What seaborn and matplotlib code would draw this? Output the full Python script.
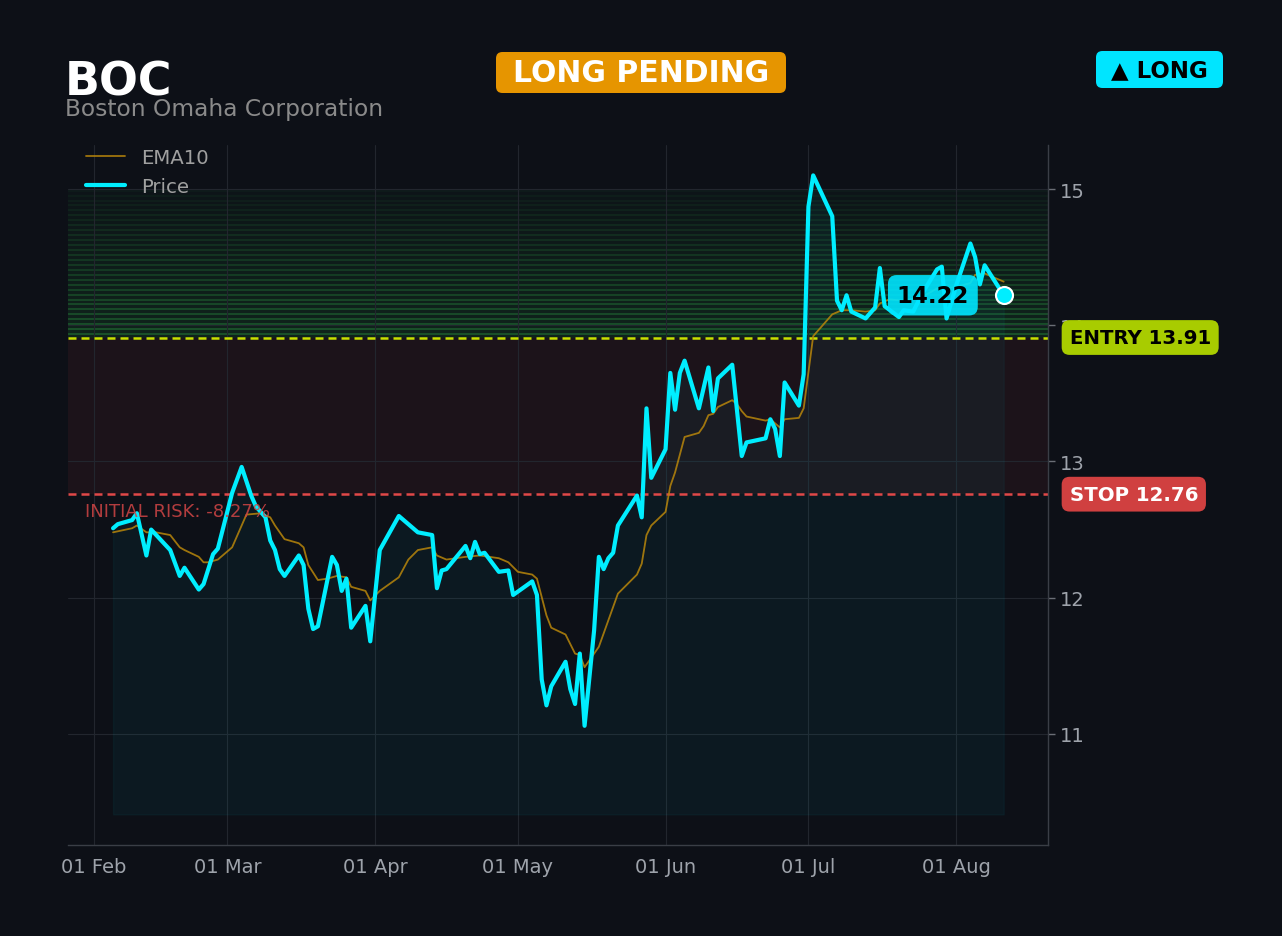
import numpy as np
import pandas as pd
import seaborn as sns
import matplotlib.pyplot as plt
import matplotlib.dates as mdates
from matplotlib.patches import FancyBboxPatch
from matplotlib.transforms import blended_transform_factory

ticker = "BOC"
company = "Boston Omaha Corporation"
status = "LONG PENDING"
side = "▲ LONG"
entry = 13.91
stop = 12.76
target_top = 15.0
fill_floor = 10.41

start = pd.Timestamp("2025-02-01")

# price vertices, days counted from 01 Feb
price_days = [4, 5, 8, 9, 11, 12, 16, 18, 19, 22, 23, 25, 26, 29, 31, 33, 34, 36, 37, 38,
              39, 40, 43, 44, 45, 46, 47, 50, 51, 52, 53, 54, 57, 58, 60, 64, 66, 68, 71, 72,
              73, 74, 78, 79, 80, 81, 82, 85, 87, 88, 92, 93, 94, 95, 96, 99, 100, 101, 102, 103,
              105, 106, 107, 108, 109, 110, 114, 115, 116, 117, 120, 121, 122, 123, 124, 127, 129, 130, 131, 134,
              136, 137, 141, 142, 143, 144, 145, 148, 149, 150, 151, 155, 156, 157, 158, 159, 162, 164, 165, 166,
              169, 170, 172, 174, 177, 178, 179, 181, 184, 185, 186, 187, 191]
price = [12.51, 12.54, 12.57, 12.62, 12.31, 12.50, 12.35, 12.16, 12.22, 12.06, 12.10, 12.32, 12.36, 12.77, 12.96, 12.75, 12.67, 12.59, 12.42, 12.35,
         12.21, 12.16, 12.31, 12.24, 11.92, 11.77, 11.79, 12.30, 12.24, 12.05, 12.14, 11.78, 11.94, 11.68, 12.35, 12.60, 12.54, 12.48, 12.46, 12.07,
         12.20, 12.21, 12.38, 12.29, 12.41, 12.32, 12.33, 12.19, 12.20, 12.02, 12.12, 12.02, 11.40, 11.21, 11.35, 11.53, 11.33, 11.22, 11.59, 11.06,
         11.76, 12.30, 12.21, 12.29, 12.33, 12.53, 12.75, 12.59, 13.39, 12.88, 13.09, 13.65, 13.38, 13.65, 13.74, 13.39, 13.69, 13.37, 13.61, 13.71,
         13.04, 13.14, 13.17, 13.31, 13.24, 13.04, 13.58, 13.41, 13.64, 14.87, 15.10, 14.80, 14.18, 14.11, 14.22, 14.10, 14.05, 14.13, 14.42, 14.14,
         14.06, 14.11, 14.10, 14.24, 14.41, 14.43, 14.05, 14.29, 14.60, 14.50, 14.30, 14.44, 14.22]

ema_days = [4, 8, 9, 11, 13, 16, 18, 19, 22, 23, 24, 26, 29, 31, 32, 35, 37, 38, 40, 43,
            44, 45, 47, 49, 51, 53, 54, 57, 58, 60, 64, 66, 68, 71, 72, 74, 78, 81, 85, 87,
            89, 92, 93, 95, 96, 99, 101, 102, 103, 106, 110, 114, 115, 116, 117, 120, 121, 122, 124, 127,
            128, 129, 130, 131, 134, 135, 136, 137, 141, 142, 144, 145, 148, 149, 151, 153, 155, 157, 159, 162,
            164, 165, 167, 170, 174, 177, 181, 184, 185, 187, 191]
ema10 = [12.48, 12.51, 12.53, 12.48, 12.48, 12.46, 12.37, 12.35, 12.30, 12.26, 12.26, 12.28, 12.37, 12.53, 12.61, 12.62, 12.59, 12.53, 12.43, 12.40,
         12.37, 12.24, 12.13, 12.14, 12.16, 12.15, 12.08, 12.05, 11.98, 12.05, 12.15, 12.28, 12.35, 12.37, 12.31, 12.28, 12.30, 12.31, 12.29, 12.26,
         12.19, 12.17, 12.14, 11.87, 11.78, 11.73, 11.59, 11.58, 11.49, 11.64, 12.03, 12.17, 12.25, 12.46, 12.53, 12.63, 12.82, 12.92, 13.18, 13.21,
         13.26, 13.34, 13.35, 13.40, 13.45, 13.42, 13.37, 13.33, 13.30, 13.31, 13.25, 13.31, 13.32, 13.39, 13.92, 14.00, 14.08, 14.11, 14.11, 14.10,
         14.11, 14.16, 14.19, 14.18, 14.21, 14.27, 14.28, 14.31, 14.37, 14.38, 14.32]

price_df = pd.DataFrame({"date": start + pd.to_timedelta(price_days, unit="D"), "price": price})
ema_df = pd.DataFrame({"date": start + pd.to_timedelta(ema_days, unit="D"), "ema": ema10})
last_date = price_df["date"].iloc[-1]
last_price = price_df["price"].iloc[-1]

bg = "#0d1017"
sns.set_style("darkgrid", rc={
    "axes.facecolor": bg,
    "figure.facecolor": bg,
    "grid.color": "#22262e",
    "axes.edgecolor": "#3a3e46",
    "xtick.color": "#9ea3ab",
    "ytick.color": "#9ea3ab",
    "text.color": "#9ea3ab",
})
plt.rcParams["font.family"] = ["DejaVu Sans"]

W, H = 1282, 937
fig = plt.figure(figsize=(W / 100, H / 100), dpi=100)
ax = fig.add_axes([68 / W, 91 / H, 980 / W, 700 / H])

# zones
ax.axhspan(stop, entry, color="#e04040", alpha=0.075, lw=0, zorder=0)
n_bands = 30
edges = np.linspace(entry, target_top, n_bands + 1)
for i in range(n_bands):
    k = 1 - i / n_bands
    ax.axhspan(edges[i], edges[i + 1], color="#1f9d3a", alpha=0.03 + 0.11 * k, lw=0, zorder=0)
    ax.axhline(edges[i + 1] - 0.012, color="#34c450", alpha=0.03 + 0.26 * k, lw=1.4, zorder=0)

ax.fill_between(price_df["date"], price_df["price"], fill_floor,
                color="#00e5ff", alpha=0.045, lw=1, zorder=1)

sns.lineplot(data=ema_df, x="date", y="ema", color="#b8860b", lw=1.3, alpha=0.85,
             label="EMA10", ax=ax, zorder=3)
sns.lineplot(data=price_df, x="date", y="price", color="#00eeff", lw=3,
             label="Price", ax=ax, zorder=4)

ax.axhline(entry, color="#c8e000", lw=1.8, ls=(0, (3.2, 2)), zorder=2)
ax.axhline(stop, color="#e04848", lw=1.8, ls=(0, (3.2, 2)), zorder=2)

ax.scatter([last_date], [last_price], s=150, color="#00eeff", edgecolor="white",
           linewidth=1.5, zorder=6)
ax.annotate(f"{last_price:.2f}", xy=(last_date, last_price), xytext=(-51, 0),
            textcoords="offset points", ha="center", va="center", fontsize=16.5,
            fontweight="bold", color="black", zorder=7,
            bbox=dict(boxstyle="round,pad=0.38", fc="#00e5ff", ec="none", alpha=0.9))

trans = blended_transform_factory(ax.transAxes, ax.transData)
ax.text(1.022, entry, f"ENTRY {entry:.2f}", transform=trans, ha="left", va="center",
        fontsize=14.2, fontweight="bold", color="black", zorder=8,
        bbox=dict(boxstyle="round,pad=0.4", fc="#a8cc00", ec="none"))
ax.text(1.022, stop, f"STOP {stop:.2f}", transform=trans, ha="left", va="center",
        fontsize=14.2, fontweight="bold", color="white", zorder=8,
        bbox=dict(boxstyle="round,pad=0.4", fc="#d04040", ec="none"))
risk = (stop - entry) / entry * 100
ax.text(0.017, 12.64, f"INITIAL RISK: {risk:.2f}%", transform=trans, ha="left", va="center",
        fontsize=13, color="#d04545", alpha=0.85, zorder=5)

# axes styling
ax.set_xlim(start - pd.Timedelta(days=5.46), start + pd.Timedelta(days=200.3))
ax.set_ylim(10.185, 15.323)
ax.yaxis.tick_right()
ax.set_yticks([11, 12, 13, 14, 15])
ax.xaxis.set_major_locator(mdates.MonthLocator())
ax.xaxis.set_major_formatter(mdates.DateFormatter("%d %b"))
ax.tick_params(axis="both", labelsize=14, length=5, width=1, color="#6a6e76")
ax.set_xlabel("")
ax.set_ylabel("")
ax.grid(True, color="#22262e", lw=0.8)
for s in ["left", "top"]:
    ax.spines[s].set_visible(False)
for s in ["right", "bottom"]:
    ax.spines[s].set_color("#3a3e46")
    ax.spines[s].set_linewidth(1)

leg = ax.legend(loc="upper left", bbox_to_anchor=(0.0, 1.021), frameon=False,
                fontsize=14.2, labelcolor="#a0a0a0")


def badge(cx, cy, w, h, color, text, tcolor, size):
    patch = FancyBboxPatch(((cx - w / 2) / W, 1 - (cy + h / 2) / H), w / W, h / H,
                           boxstyle="round,pad=0,rounding_size=0.005",
                           mutation_aspect=W / H, transform=fig.transFigure,
                           fc=color, ec="none")
    fig.patches.append(patch)
    fig.text(cx / W, 1 - cy / H, text, ha="center", va="center", fontsize=size,
             fontweight="bold", color=tcolor)


fig.text(65 / W, 1 - 95 / H, ticker, fontsize=33, fontweight="bold", color="white", va="baseline")
fig.text(65 / W, 1 - 116 / H, company, fontsize=16.8, color="#8a8a8a", va="baseline")
badge(641, 73.5, 290, 41, "#e69500", status, "white", 21.5)
badge(1159.5, 70.5, 127, 37, "#00e5ff", side, "black", 16.5)

fig.savefig("out.png", dpi=100, facecolor=bg)
